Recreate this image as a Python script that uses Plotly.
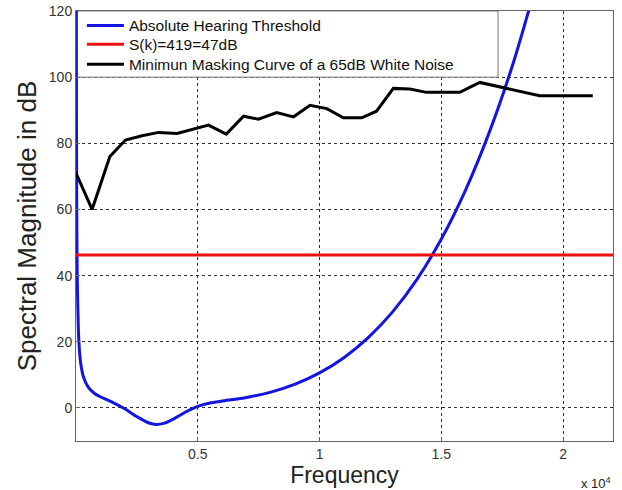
import plotly.graph_objects as go

# Absolute hearing threshold (Hz, dB)
thr_freq = [10, 20, 30, 50, 100, 150, 200, 300, 500, 750, 1000, 1500, 2000, 2500, 3000,
            3300, 3600, 4000, 4500, 5000, 5500, 6000, 7000, 8000, 9000, 10000, 11000,
            12000, 13000, 14000, 15000, 16000, 17000, 18000, 19000]
thr_db = [145, 83, 60.3, 40.0, 23.0, 16.6, 13.2, 9.5, 6.3, 4.45, 3.37, 1.7, -0.25, -2.64, -4.57,
          -4.98, -4.68, -3.38, -1.24, 0.48, 1.49, 2.08, 3.17, 4.79, 7.19, 10.58, 15.18,
          21.24, 29.03, 38.86, 51.05, 65.95, 83.91, 105.35, 130.7]

# Signal level line
sig_freq = [0, 22050]
sig_db = [46.2, 46.2]

# Minimum masking curve of a 65 dB white noise
mask_freq = [0, 660, 1390, 2030, 2710, 3390, 4150, 4970, 5440, 6170, 6880, 7490, 8240, 8930,
             9610, 10300, 10980, 11730, 12340, 13030, 13710, 14390, 15760, 16580, 17600,
             19040, 21220]
mask_db = [71, 60, 76, 81, 82.3, 83.3, 83, 84.7, 85.5, 82.8, 88.2, 87.3, 89.3, 88,
           91.5, 90.5, 87.7, 87.7, 89.7, 96.6, 96.4, 95.4, 95.4, 98.4, 96.8,
           94.4, 94.4]

x_tickvals = [5000, 10000, 15000, 20000]
x_ticktext = ["0.5", "1", "1.5", "2"]
y_tickvals = [0, 20, 40, 60, 80, 100, 120]

FONT = "Arial, Liberation Sans, Helvetica, sans-serif"

fig = go.Figure()
fig.add_trace(go.Scatter(x=thr_freq, y=thr_db, mode="lines", name="Absolute Hearing Threshold",
                         line=dict(color="#1414e0", width=3, shape="spline", smoothing=0.6),
                         legend="legend"))
fig.add_trace(go.Scatter(x=sig_freq, y=sig_db, mode="lines", name="S(k)=419=47dB",
                         line=dict(color="#ee1111", width=3), legend="legend2"))
fig.add_trace(go.Scatter(x=mask_freq, y=mask_db, mode="lines",
                         name="Minimun Masking Curve of a 65dB White Noise",
                         line=dict(color="black", width=3), legend="legend3"))

# legend frame (opaque box like MATLAB), between grid and traces
fig.add_shape(type="rect", xref="x", yref="y", x0=0, x1=17330, y0=100, y1=120,
              line=dict(color="#777777", width=1), fillcolor="white", layer="between")

fig.add_annotation(xref="paper", yref="paper", x=1.0, y=-0.097, xanchor="right", yanchor="middle",
                   text="x 10<sup>4</sup>", showarrow=False, font=dict(family=FONT, size=13, color="#222"))

leg_common = dict(x=0.011, xanchor="left", yanchor="top", bgcolor="rgba(0,0,0,0)",
                  borderwidth=0, font=dict(family=FONT, size=15.5, color="#111"), itemwidth=37)

fig.update_layout(
    width=622, height=490,
    margin=dict(l=76, r=9, t=9, b=49),
    paper_bgcolor="white", plot_bgcolor="white",
    font=dict(family=FONT, color="#222"),
    showlegend=True,
    legend=dict(y=1.005, **leg_common),
    legend2=dict(y=0.961, **leg_common),
    legend3=dict(y=0.915, **leg_common),
)
fig.update_xaxes(range=[0, 22050], tickvals=x_tickvals, ticktext=x_ticktext,
                 showgrid=True, gridcolor="#333", griddash="dot", gridwidth=1,
                 zeroline=False, showline=True, linecolor="#666", linewidth=1, mirror=True,
                 ticks="inside", ticklen=4, tickcolor="#666",
                 tickfont=dict(family=FONT, size=14, color="#333"),
                 title=dict(text="Frequency", font=dict(family=FONT, size=23, color="#222"), standoff=2),
                 automargin=False)
fig.update_yaxes(range=[-10, 120], tickvals=y_tickvals,
                 showgrid=True, gridcolor="#333", griddash="dot", gridwidth=1,
                 zeroline=False, showline=True, linecolor="#666", linewidth=1, mirror=True,
                 ticks="inside", ticklen=4, tickcolor="#666",
                 tickfont=dict(family=FONT, size=14, color="#333"),
                 title=dict(text="Spectral Magnitude in dB", font=dict(family=FONT, size=26, color="#222"), standoff=4),
                 automargin=False)

# remove the browser's default 8px body margin so the figure sits at the page origin
fig.write_html("out.html", config={"displayModeBar": False},
               post_script="document.body.style.margin='0px';")
